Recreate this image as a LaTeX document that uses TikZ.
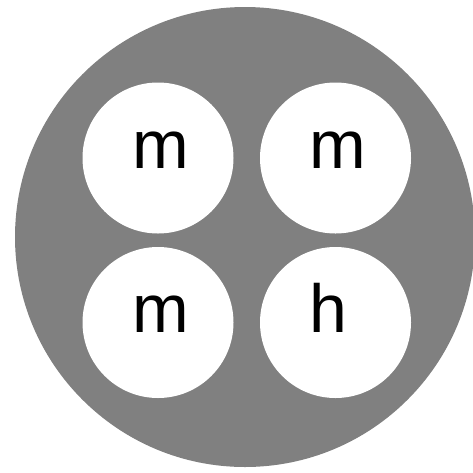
\documentclass[tikz,border=0pt]{standalone}
\usepackage{fontspec}
\setmainfont{Liberation Sans}
\begin{document}
\begin{tikzpicture}[x=1pt,y=-1pt]
    \useasboundingbox (0,0) rectangle (473,472);
    \tikzset{
        cell/.style={circle,fill=white,inner sep=0pt,minimum size=151pt},
        letter/.style={inner sep=0pt,anchor=base,font=\fontsize{68}{68}\selectfont}
    }
    \coordinate (C) at (245,237);
    \fill[gray] (C) circle (230);

    \node[cell] (TL) at (158,158) {};
    \node[cell] (TR) at (335.5,158) {};
    \node[cell] (BL) at (158,322.5) {};
    \node[cell] (BR) at (335.5,322.5) {};

    \node[letter] (tlm) at ([xshift=3pt,yshift=-10pt]TL.center) {m};
    \node[letter] (trm) at ([xshift=2pt,yshift=-10pt]TR.center) {m};
    \node[letter] (blm) at ([xshift=3pt,yshift=-10pt]BL.center) {m};
    \node[letter] (brh) at ([xshift=-7pt,yshift=-10pt]BR.center) {h};
\end{tikzpicture}
\end{document}
